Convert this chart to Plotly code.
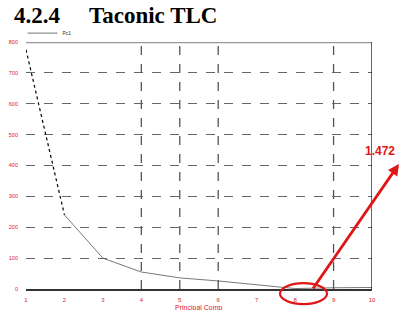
import plotly.graph_objects as go

components = [1, 2, 3, 4, 5, 6, 7, 8, 9, 10]
eigenvalues = [775, 240, 100, 55, 36, 26, 13, 1.472, 4, 5]
x_tick_labels = ["1", "2", "3", "4", "5", "6", "7", "8", "9", "10"]
y_ticks = [0, 100, 200, 300, 400, 500, 600, 700, 800]
vgrid = [4, 5, 6, 9]
highlight_value = "1.472"
x_title = "Principal Comp"
RED = "#e01515"

fig = go.Figure()
# first segment dotted black
fig.add_trace(go.Scatter(x=components[:2], y=eigenvalues[:2], mode="lines",
                         line=dict(color="black", width=1.2, dash="dot"),
                         showlegend=False))
fig.add_trace(go.Scatter(x=components[1:], y=eigenvalues[1:], mode="lines",
                         line=dict(color="#555555", width=0.8),
                         name="Pc1", showlegend=True))

for v in vgrid:
    fig.add_shape(type="line", x0=v, x1=v, y0=0, y1=800, xref="x", yref="y",
                  line=dict(color="#555555", width=1.3, dash="dash"), layer="below")
# top border gray
fig.add_shape(type="line", x0=1, x1=10, y0=800, y1=800, xref="x", yref="y",
              line=dict(color="#999999", width=2.5))
# right border
fig.add_shape(type="line", x0=10, x1=10, y0=0, y1=800, xref="x", yref="y",
              line=dict(color="black", width=1.2))

# ellipse around tick 8
fig.add_shape(type="circle", xref="paper", yref="paper",
              x0=0.734, x1=0.870, y0=-0.061, y1=0.024,
              line=dict(color=RED, width=2.2))

fig.add_annotation(xref="paper", yref="paper", x=1.078, y=0.506,
                   ax=-87, ay=126, axref="pixel", ayref="pixel",
                   showarrow=True, arrowhead=2, arrowsize=0.8, arrowwidth=2.8,
                   arrowcolor=RED, text="")
fig.add_annotation(xref="paper", yref="paper", x=1.072, y=0.559,
                   text="<b>" + highlight_value + "</b>", showarrow=False,
                   font=dict(family="Liberation Sans", size=12, color=RED))

fig.add_annotation(xref="paper", yref="paper", x=-0.0405, y=1.166,
                   xanchor="left", yanchor="top", showarrow=False,
                   text="<b>4.2.4</b>",
                   font=dict(family="Liberation Serif", size=23, color="black"))
fig.add_annotation(xref="paper", yref="paper", x=0.176, y=1.166,
                   xanchor="left", yanchor="top", showarrow=False,
                   text="<b>Taconic TLC</b>",
                   font=dict(family="Liberation Serif", size=23, color="black"))
# x-axis title
fig.add_annotation(xref="paper", yref="paper", x=0.5, y=-0.077,
                   xanchor="center", yanchor="middle", showarrow=False,
                   text=x_title,
                   font=dict(family="Liberation Sans", size=7, color="#dd2222"))

fig.update_layout(
    width=419, height=310,
    margin=dict(l=26, r=47, t=42, b=21, autoexpand=False),
    paper_bgcolor="white", plot_bgcolor="white",
    showlegend=True,
    legend=dict(x=-0.01, y=1.036, xanchor="left", yanchor="middle",
                font=dict(family="Liberation Sans", size=5, color="#333333"),
                bgcolor="rgba(0,0,0,0)", itemwidth=30, tracegroupgap=0),
    xaxis=dict(range=[1, 10], tickvals=components, ticktext=x_tick_labels,
               showgrid=False, zeroline=False, showline=True, linecolor="#333333",
               linewidth=1.5, ticks="", ticklabelstandoff=4, automargin=False,
               tickfont=dict(family="Liberation Sans", size=6, color="#dd2222")),
    yaxis=dict(range=[0, 800], tickvals=y_ticks, showgrid=True, gridcolor="#666666",
               griddash="dash", gridwidth=1.3, zeroline=False, showline=False, ticks="",
               ticklabelstandoff=7, automargin=False,
               tickfont=dict(family="Liberation Sans", size=5.5, color="#dd2222")),
)

fig.write_html("out.html")
